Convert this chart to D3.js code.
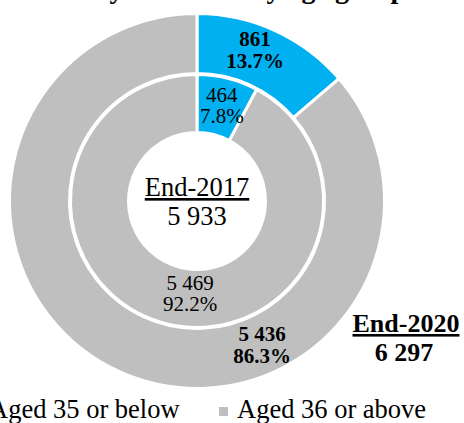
<!DOCTYPE html>
<html lang="en">
<head>
  <meta charset="UTF-8">
  <title>Members by age group</title>
  <script src="https://cdn.jsdelivr.net/npm/d3@7"></script>
  <style>
    body { margin: 0; background: #fff; }
    svg { display: block; font-family: "Liberation Serif", "Times New Roman", serif; }
  </style>
</head>
<body>
  <script>
    // data
    const groups = ["Aged 35 or below", "Aged 36 or above"];
    const colors = ["#00B0F0", "#BFBFBF"];
    const values2017 = [464, 5469];
    const values2020 = [861, 5436];
    const pct2017 = ["7.8%", "92.2%"];
    const pct2020 = ["13.7%", "86.3%"];
    const totals = ["5 933", "6 297"];
    const years = ["End-2017", "End-2020"];

    const w = 464, h = 423;
    const cx = 197, cy = 201;

    // label placement: [angle in degrees clockwise from top, radius]
    const innerLabelPos = [[14.7, 98], [184.3, 93]];
    const outerLabelPos = [[21, 162], [155.7, 158]];

    const fmt = n => d3.format(",")(n).replace(/,/g, " ");

    const svg = d3.select("body").append("svg")
      .attr("width", w)
      .attr("height", h);

    svg.append("text")
      .attr("x", 222)
      .attr("y", -2)
      .attr("text-anchor", "middle")
      .attr("font-size", 28)
      .attr("font-weight", "bold")
      .text("Society Members by age group");

    const pie = d3.pie().sort(null);
    const g = svg.append("g").attr("transform", `translate(${cx},${cy})`);

    const rings = [
      {values: values2020, inner: 127.5, outer: 187.5},
      {values: values2017, inner: 68.5, outer: 126.5}
    ];

    rings.forEach(r => {
      const arc = d3.arc().innerRadius(r.inner).outerRadius(r.outer);
      g.append("g").selectAll("path")
        .data(pie(r.values))
        .enter().append("path")
        .attr("d", arc)
        .attr("fill", (d, i) => colors[i])
        .attr("stroke", "#fff")
        .attr("stroke-width", 3);
    });

    const polar = (a, r) => {
      const t = a * Math.PI / 180;
      return [r * Math.sin(t), -r * Math.cos(t)];
    };

    function sliceLabel(pos, lines, bold, lh) {
      const [x, y] = polar(pos[0], pos[1]);
      const t = g.append("text")
        .attr("text-anchor", "middle")
        .attr("font-size", 21)
        .attr("font-weight", bold ? "bold" : "normal");
      lines.forEach((s, i) => {
        t.append("tspan")
          .attr("x", x)
          .attr("y", y - 4 + i * lh)
          .text(s);
      });
    }

    values2017.forEach((v, i) => sliceLabel(innerLabelPos[i], [fmt(v), pct2017[i]], false, 21));
    values2020.forEach((v, i) => sliceLabel(outerLabelPos[i], [fmt(v), pct2020[i]], true, 22));

    // centre label (2017)
    g.append("text")
      .attr("x", 0).attr("y", -5)
      .attr("text-anchor", "middle")
      .attr("font-size", 26.5)
      .attr("text-decoration", "underline")
      .text(years[0]);
    g.append("text")
      .attr("x", 0).attr("y", 24)
      .attr("text-anchor", "middle")
      .attr("font-size", 26.5)
      .text(totals[0]);

    // outer label (2020)
    svg.append("text")
      .attr("x", 406).attr("y", 332)
      .attr("text-anchor", "middle")
      .attr("font-size", 26)
      .attr("font-weight", "bold")
      .attr("text-decoration", "underline")
      .text(years[1]);
    svg.append("text")
      .attr("x", 404).attr("y", 361)
      .attr("text-anchor", "middle")
      .attr("font-size", 26)
      .attr("font-weight", "bold")
      .text(totals[1]);

    // legend
    const legend = svg.append("g").attr("transform", "translate(-29,0)");
    const item = legend.selectAll("g")
      .data(groups)
      .enter().append("g")
      .attr("transform", (d, i) => `translate(${i * 248},0)`);
    item.append("rect")
      .attr("x", 0).attr("y", 407)
      .attr("width", 9).attr("height", 9)
      .attr("fill", (d, i) => colors[i]);
    item.append("text")
      .attr("x", 18).attr("y", 418)
      .attr("font-size", 26.5)
      .text(d => d);
  </script>
</body>
</html>
